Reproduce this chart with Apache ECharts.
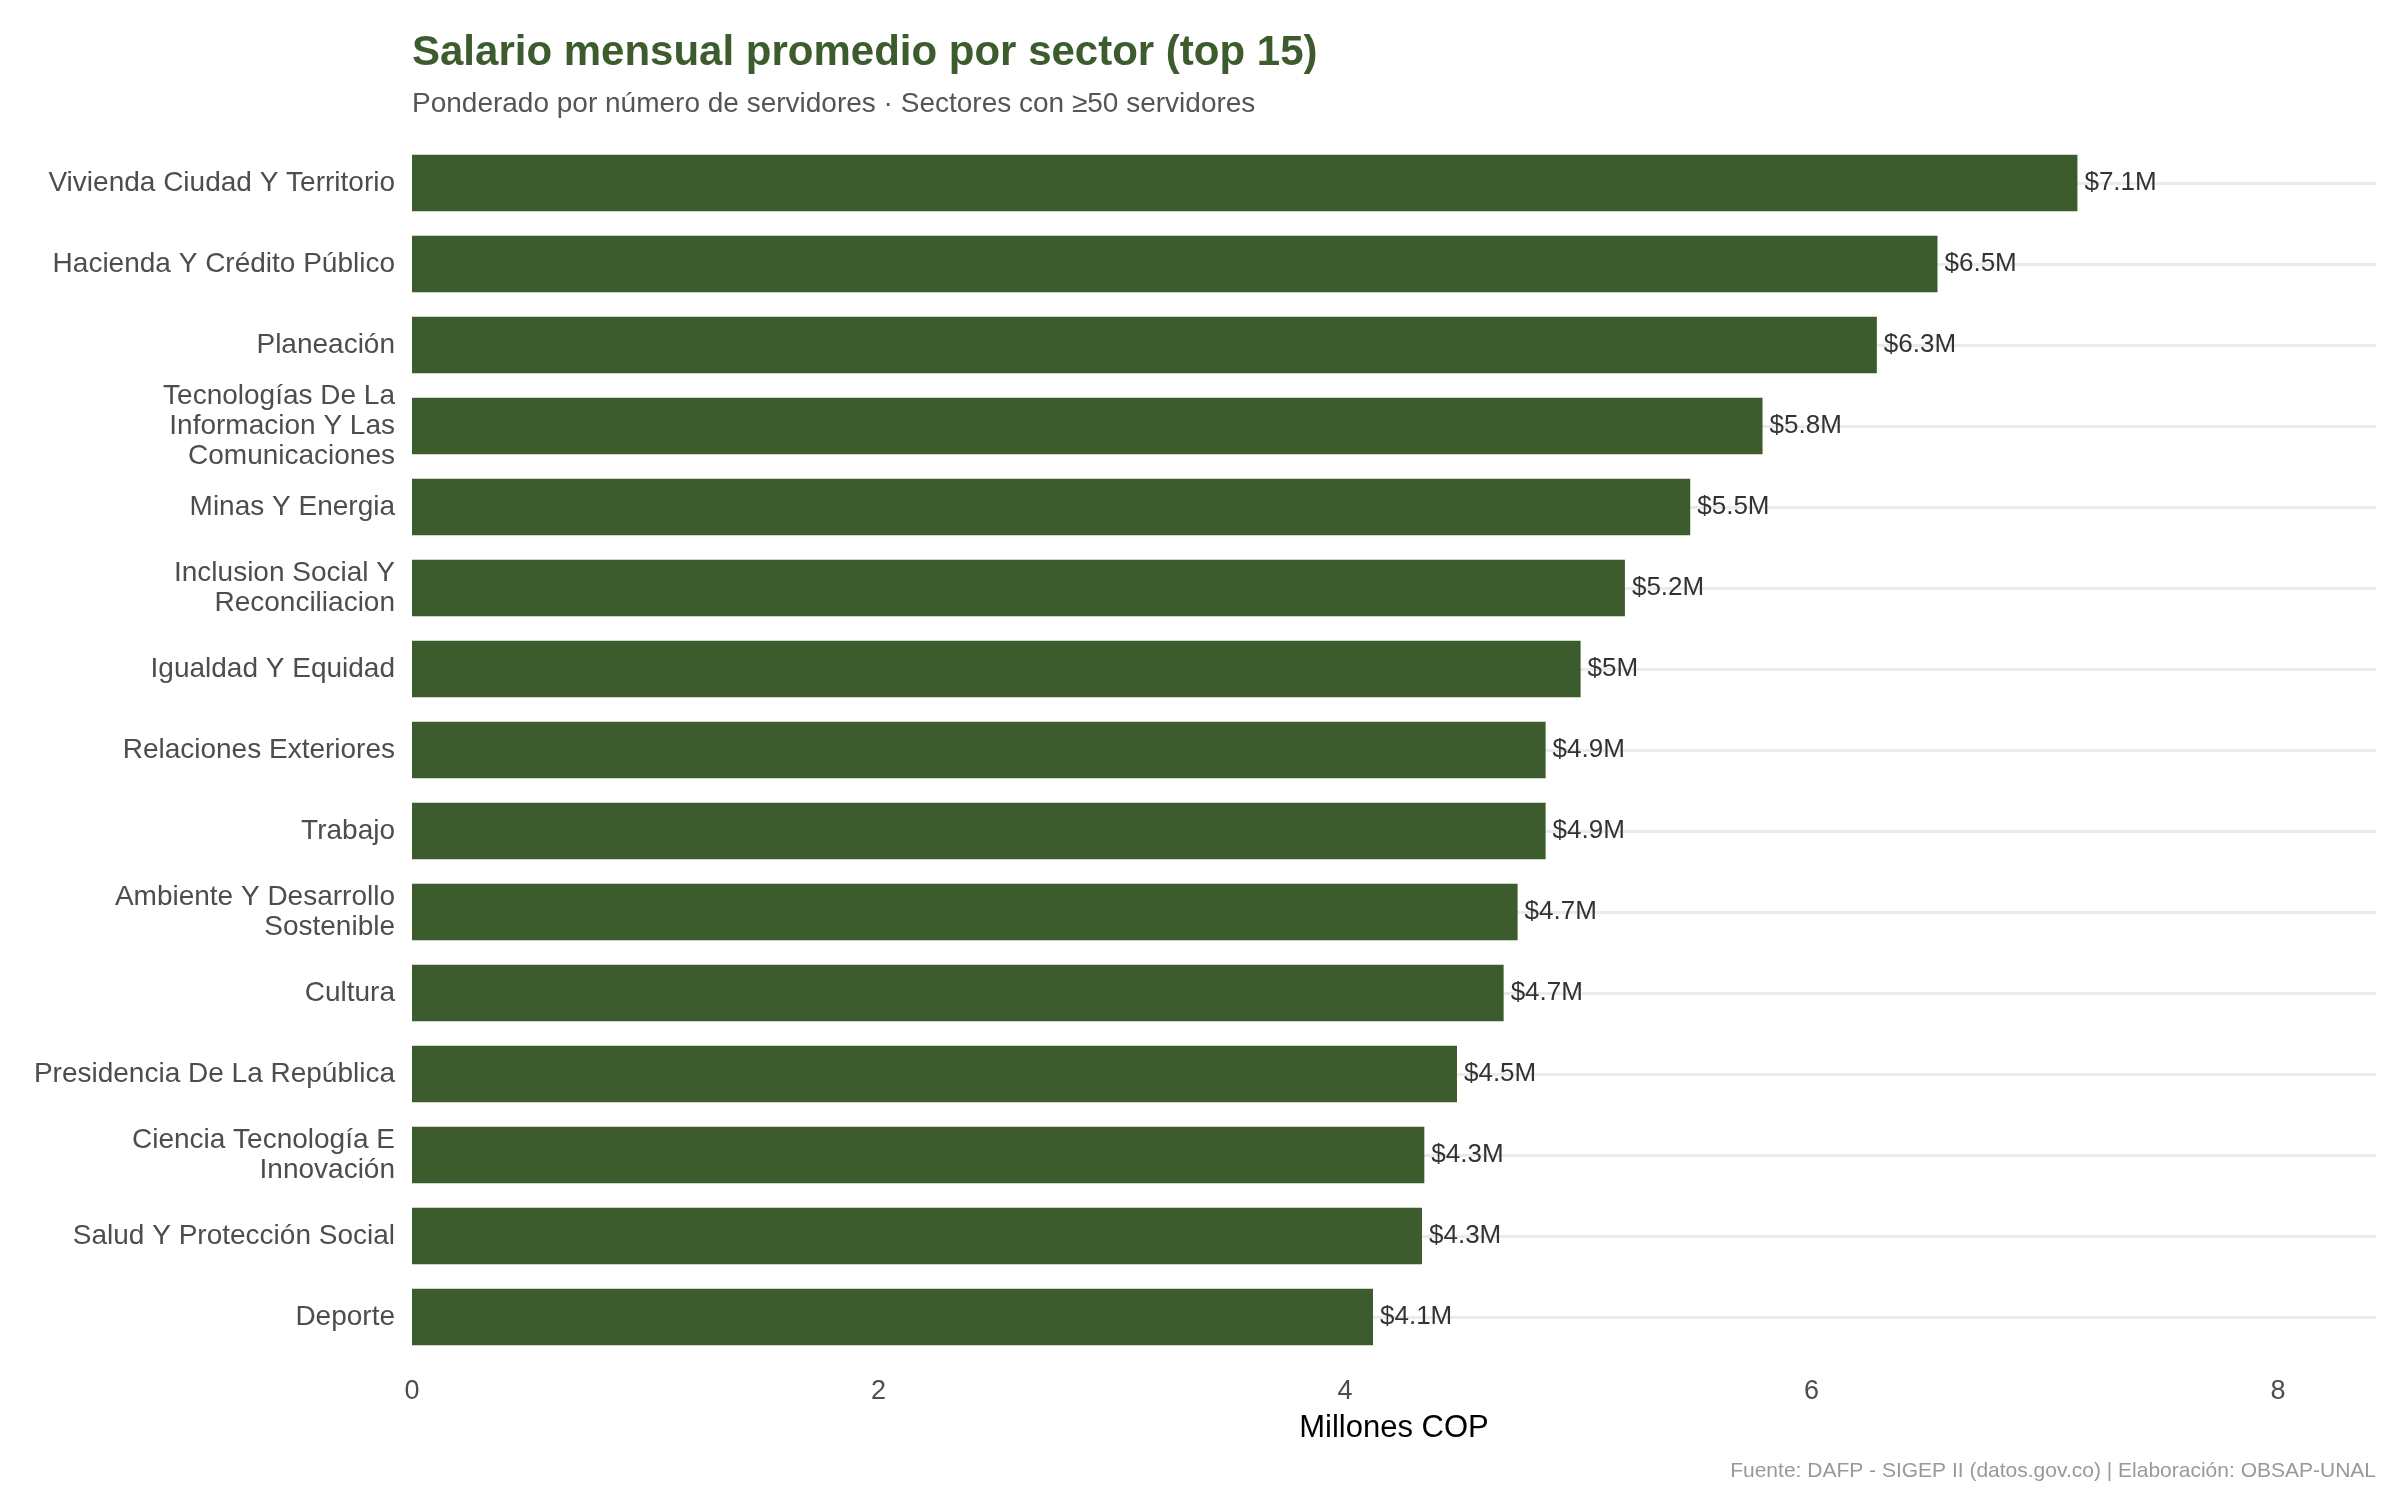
<!DOCTYPE html>
<html>
<head>
<meta charset="utf-8">
<title>Salario mensual promedio por sector</title>
<script src="https://cdn.jsdelivr.net/npm/echarts@6/dist/echarts.min.js"></script>
<style>
  html, body { margin: 0; padding: 0; background: #fff; }
  #chart { width: 2400px; height: 1500px; }
</style>
</head>
<body>
<div id="chart"></div>
<script>
// sectores (de mayor a menor salario)
const sectores = [
  'Vivienda Ciudad Y Territorio',
  'Hacienda Y Crédito Público',
  'Planeación',
  'Tecnologías De La\nInformacion Y Las\nComunicaciones',
  'Minas Y Energia',
  'Inclusion Social Y\nReconciliacion',
  'Igualdad Y Equidad',
  'Relaciones Exteriores',
  'Trabajo',
  'Ambiente Y Desarrollo\nSostenible',
  'Cultura',
  'Presidencia De La República',
  'Ciencia Tecnología E\nInnovación',
  'Salud Y Protección Social',
  'Deporte'
];
// salario promedio, millones COP
const salarios = [7.14, 6.54, 6.28, 5.79, 5.48, 5.20, 5.01, 4.86, 4.86, 4.74, 4.68, 4.48, 4.34, 4.33, 4.12];
const ticksX = [0, 2, 4, 6, 8];

const verde = '#3d5c2e';
const fuente = 'Liberation Sans, Arial, Helvetica, sans-serif';

function etiqueta(v) {
  let s = (Math.round(v * 10) / 10).toString();
  return '$' + s + 'M';
}

let myChart = echarts.init(document.getElementById('chart'));
let option = {
  backgroundColor: '#fff',
  textStyle: {fontFamily: fuente},
  animation: false,
  title: [
    {
      text: 'Salario mensual promedio por sector (top 15)',
      left: 412, top: 32, padding: 0,
      textStyle: {fontSize: 42, fontWeight: 'bold', color: verde, fontFamily: fuente}
    },
    {
      text: 'Ponderado por número de servidores · Sectores con ≥50 servidores',
      left: 412, top: 90, padding: 0,
      textStyle: {fontSize: 28, fontWeight: 'normal', color: '#555', fontFamily: fuente}
    },
    {
      text: 'Fuente: DAFP - SIGEP II (datos.gov.co) | Elaboración: OBSAP-UNAL',
      right: 24, top: 1461, padding: 0,
      textStyle: {fontSize: 21, fontWeight: 'normal', color: '#999', fontFamily: fuente}
    }
  ],
  grid: {left: 412, right: 24, top: 142.5, height: 1215, containLabel: false},
  xAxis: {
    type: 'value',
    min: 0,
    max: 8.42,
    interval: 2,
    name: 'Millones COP',
    nameLocation: 'middle',
    nameGap: 55,
    nameTextStyle: {fontSize: 31, color: '#000', fontFamily: fuente},
    axisLine: {show: false},
    axisTick: {show: false},
    splitLine: {show: false},
    axisLabel: {
      fontSize: 27, color: '#4d4d4d', margin: 21, fontFamily: fuente,
      formatter: function (v) { return ticksX.indexOf(v) >= 0 ? String(v) : ''; }
    }
  },
  yAxis: {
    type: 'category',
    data: sectores,
    inverse: true,
    axisLine: {show: false},
    axisTick: {show: false},
    splitLine: {show: false},
    axisLabel: {fontSize: 28, color: '#4d4d4d', margin: 17, lineHeight: 30, align: 'right', fontFamily: fuente}
  },
  series: [
    {
      type: 'bar',
      data: salarios,
      barWidth: '70%',
      z: 3,
      itemStyle: {color: verde},
      label: {
        show: true,
        position: 'right',
        distance: 7,
        fontSize: 26,
        color: '#333',
        fontFamily: fuente,
        formatter: function (p) { return etiqueta(p.value); }
      },
      markLine: {
        silent: true,
        z: 1,
        symbol: ['none', 'none'],
        label: {show: false},
        lineStyle: {color: '#ebebeb', width: 3, type: 'solid'},
        emphasis: {disabled: true},
        data: sectores.map(function (s) { return {yAxis: s}; })
      }
    }
  ]
};
myChart.setOption(option);
</script>
</body>
</html>
